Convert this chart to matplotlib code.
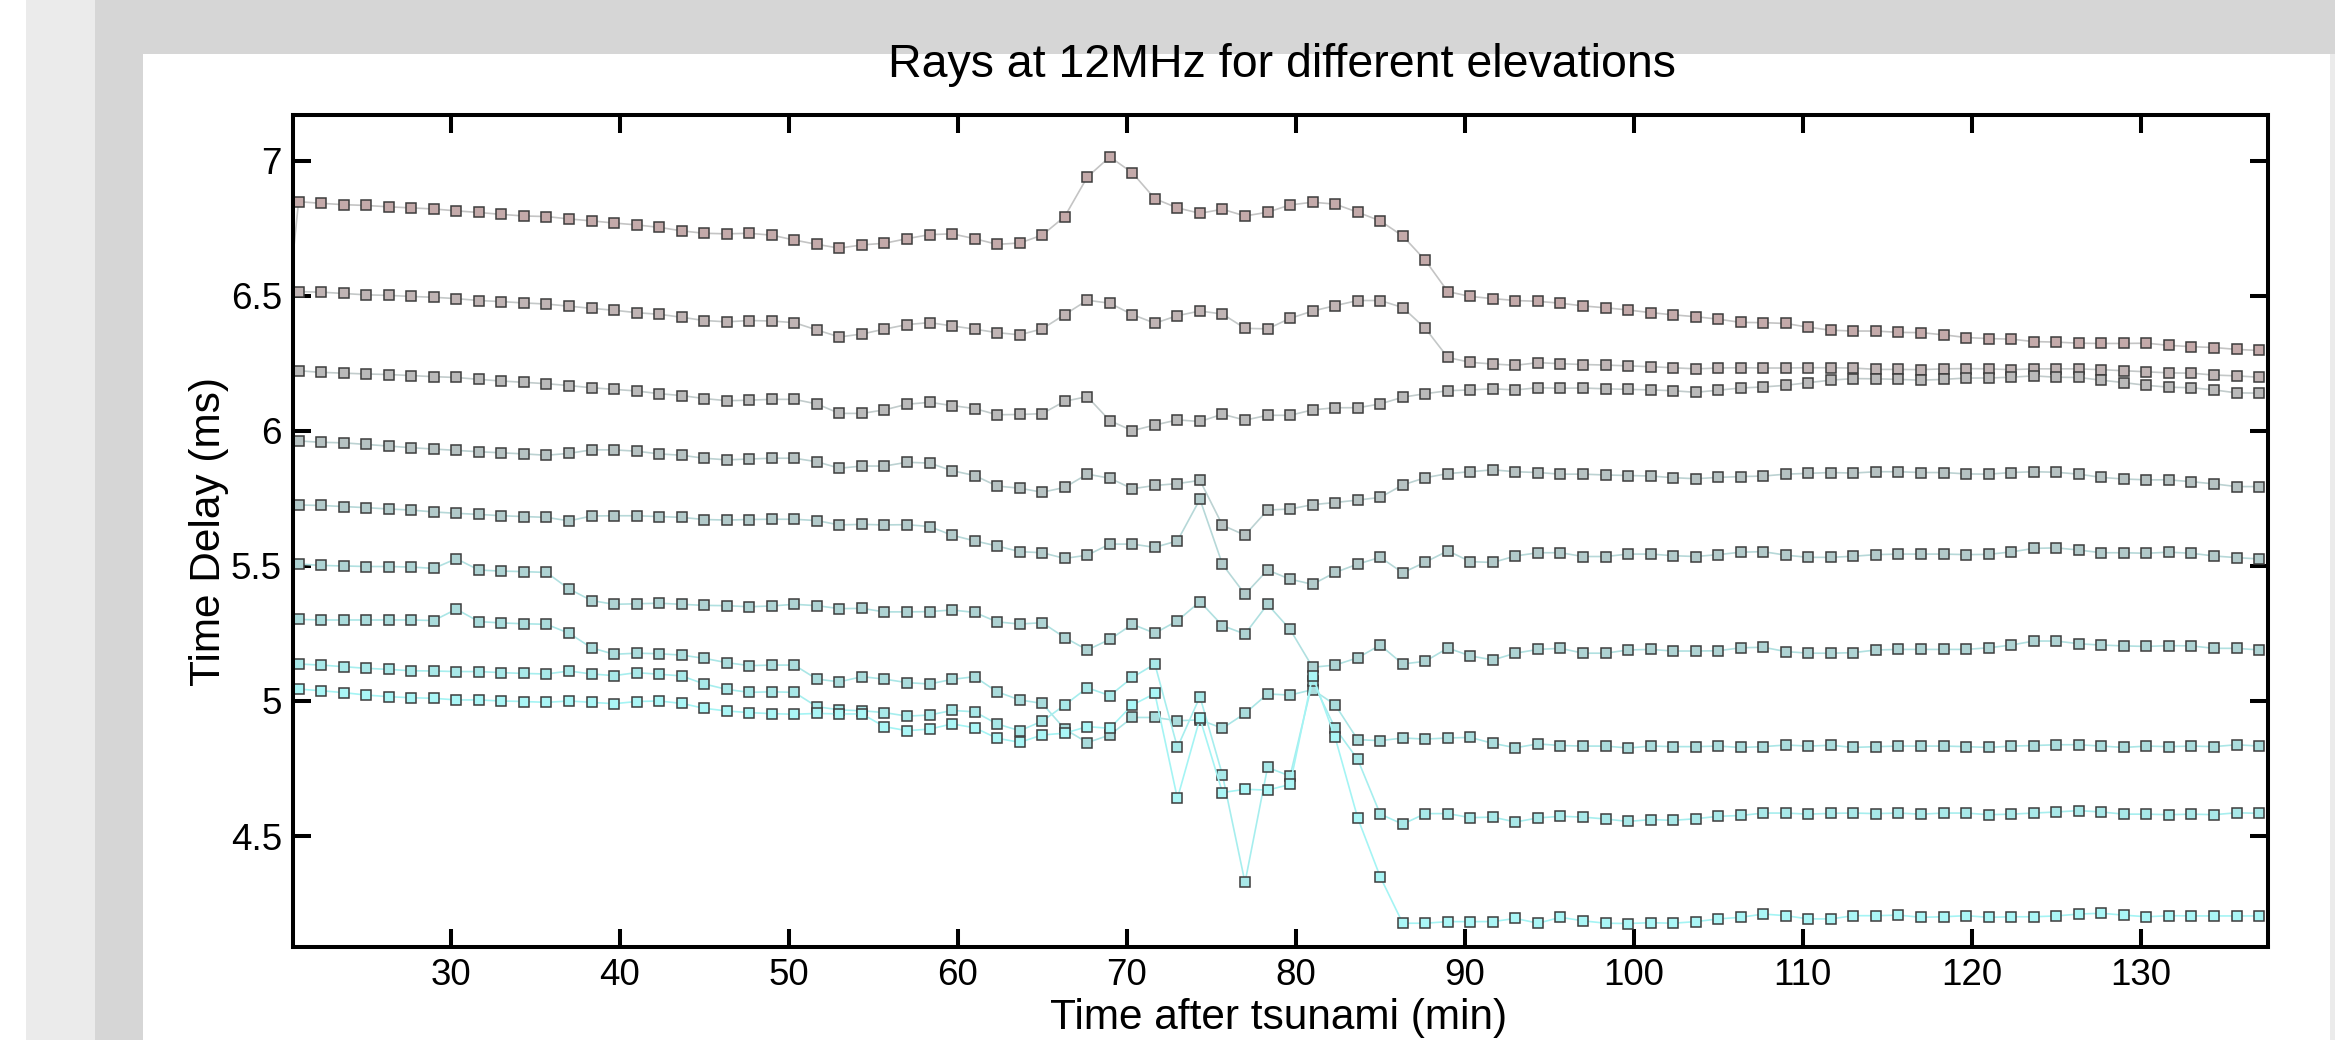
import numpy as np
import matplotlib
matplotlib.use('Agg')
import matplotlib.pyplot as plt
from matplotlib.patches import Rectangle

# Time samples (min): a lead-in sample then 88 samples from 21 to 137
time_min = np.linspace(21 - 4/3, 137, 89)

lead_in_s1 = 6.04

s1 = [6.849, 6.843, 6.838, 6.835, 6.830, 6.826, 6.822, 6.815, 6.809, 6.802, 6.796, 6.794, 6.785, 6.778, 6.770, 6.763, 6.754, 6.741,
      6.732, 6.730, 6.732, 6.725, 6.707, 6.691, 6.677, 6.689, 6.695, 6.712, 6.727, 6.730, 6.712, 6.691, 6.696, 6.725, 6.794, 6.940,
      7.015, 6.956, 6.860, 6.826, 6.806, 6.821, 6.796, 6.810, 6.837, 6.847, 6.840, 6.810, 6.778, 6.722, 6.632, 6.516, 6.498, 6.490,
      6.483, 6.480, 6.473, 6.463, 6.456, 6.448, 6.438, 6.430, 6.423, 6.414, 6.402, 6.401, 6.398, 6.384, 6.373, 6.370, 6.370, 6.365,
      6.364, 6.356, 6.346, 6.342, 6.340, 6.331, 6.329, 6.325, 6.324, 6.324, 6.325, 6.317, 6.312, 6.309, 6.302, 6.298]

s2 = [6.516, 6.514, 6.509, 6.504, 6.502, 6.498, 6.495, 6.490, 6.483, 6.479, 6.474, 6.470, 6.462, 6.454, 6.447, 6.438, 6.432, 6.421,
      6.409, 6.404, 6.409, 6.407, 6.401, 6.374, 6.348, 6.359, 6.377, 6.394, 6.401, 6.389, 6.377, 6.364, 6.356, 6.378, 6.431, 6.484,
      6.473, 6.431, 6.399, 6.427, 6.444, 6.433, 6.380, 6.378, 6.417, 6.444, 6.464, 6.483, 6.483, 6.457, 6.380, 6.272, 6.254, 6.248,
      6.243, 6.253, 6.249, 6.246, 6.244, 6.241, 6.238, 6.234, 6.230, 6.233, 6.234, 6.233, 6.233, 6.234, 6.234, 6.233, 6.228, 6.228,
      6.227, 6.230, 6.231, 6.230, 6.227, 6.230, 6.230, 6.230, 6.227, 6.223, 6.219, 6.215, 6.214, 6.207, 6.204, 6.199]

s3 = [6.223, 6.217, 6.214, 6.211, 6.209, 6.205, 6.201, 6.198, 6.191, 6.185, 6.180, 6.175, 6.168, 6.160, 6.154, 6.148, 6.138, 6.131,
      6.120, 6.112, 6.114, 6.117, 6.117, 6.100, 6.065, 6.065, 6.078, 6.099, 6.106, 6.094, 6.083, 6.060, 6.061, 6.064, 6.110, 6.127,
      6.038, 6.001, 6.022, 6.041, 6.035, 6.062, 6.040, 6.058, 6.058, 6.078, 6.086, 6.086, 6.100, 6.125, 6.138, 6.149, 6.152, 6.156,
      6.152, 6.160, 6.158, 6.159, 6.156, 6.154, 6.152, 6.149, 6.143, 6.151, 6.159, 6.163, 6.169, 6.179, 6.188, 6.194, 6.193, 6.191,
      6.188, 6.191, 6.196, 6.196, 6.199, 6.204, 6.199, 6.198, 6.188, 6.179, 6.169, 6.162, 6.160, 6.152, 6.141, 6.140]

s4 = [5.963, 5.958, 5.956, 5.950, 5.944, 5.938, 5.933, 5.928, 5.923, 5.919, 5.915, 5.910, 5.917, 5.930, 5.930, 5.925, 5.915, 5.910,
      5.899, 5.893, 5.896, 5.899, 5.899, 5.886, 5.862, 5.870, 5.870, 5.884, 5.881, 5.853, 5.835, 5.796, 5.788, 5.773, 5.791, 5.840,
      5.825, 5.786, 5.798, 5.805, 5.817, 5.651, 5.614, 5.707, 5.711, 5.727, 5.735, 5.744, 5.754, 5.800, 5.827, 5.842, 5.849, 5.856,
      5.849, 5.846, 5.840, 5.840, 5.837, 5.835, 5.833, 5.827, 5.823, 5.828, 5.831, 5.833, 5.840, 5.843, 5.846, 5.844, 5.849, 5.849,
      5.846, 5.846, 5.841, 5.840, 5.846, 5.849, 5.847, 5.840, 5.828, 5.822, 5.819, 5.819, 5.812, 5.804, 5.794, 5.794]

s5 = [5.726, 5.724, 5.720, 5.716, 5.711, 5.707, 5.700, 5.695, 5.691, 5.686, 5.683, 5.680, 5.667, 5.685, 5.686, 5.686, 5.683, 5.680,
      5.672, 5.670, 5.672, 5.673, 5.673, 5.668, 5.652, 5.654, 5.652, 5.653, 5.646, 5.614, 5.593, 5.574, 5.553, 5.549, 5.528, 5.540,
      5.581, 5.581, 5.569, 5.593, 5.747, 5.506, 5.395, 5.485, 5.451, 5.432, 5.476, 5.507, 5.532, 5.475, 5.514, 5.556, 5.516, 5.513,
      5.537, 5.549, 5.549, 5.535, 5.535, 5.544, 5.544, 5.538, 5.535, 5.542, 5.551, 5.553, 5.540, 5.532, 5.532, 5.536, 5.542, 5.544,
      5.544, 5.544, 5.542, 5.543, 5.552, 5.565, 5.567, 5.559, 5.549, 5.549, 5.547, 5.551, 5.547, 5.537, 5.531, 5.526]

s6 = [5.507, 5.502, 5.500, 5.498, 5.498, 5.496, 5.491, 5.527, 5.485, 5.481, 5.479, 5.476, 5.415, 5.372, 5.358, 5.360, 5.362, 5.358,
      5.354, 5.353, 5.349, 5.352, 5.358, 5.353, 5.342, 5.343, 5.330, 5.330, 5.331, 5.337, 5.328, 5.293, 5.285, 5.290, 5.235, 5.189,
      5.228, 5.284, 5.251, 5.297, 5.368, 5.279, 5.248, 5.358, 5.265, 5.125, 5.133, 5.160, 5.207, 5.137, 5.147, 5.196, 5.167, 5.152,
      5.177, 5.191, 5.195, 5.177, 5.177, 5.189, 5.191, 5.185, 5.185, 5.186, 5.197, 5.199, 5.183, 5.177, 5.177, 5.179, 5.189, 5.191,
      5.191, 5.191, 5.191, 5.197, 5.207, 5.222, 5.222, 5.212, 5.207, 5.204, 5.202, 5.205, 5.204, 5.195, 5.195, 5.189]

s7 = [5.302, 5.300, 5.300, 5.300, 5.300, 5.300, 5.298, 5.340, 5.294, 5.289, 5.286, 5.284, 5.251, 5.197, 5.173, 5.177, 5.175, 5.170,
      5.158, 5.142, 5.131, 5.133, 5.133, 5.081, 5.071, 5.090, 5.081, 5.068, 5.063, 5.080, 5.090, 5.034, 5.004, 4.991, 4.896, 4.846,
      4.874, 4.939, 4.939, 4.927, 4.930, 4.899, 4.954, 5.026, 5.022, 5.042, 4.986, 4.857, 4.853, 4.863, 4.859, 4.863, 4.865, 4.843,
      4.827, 4.841, 4.835, 4.833, 4.833, 4.826, 4.833, 4.831, 4.831, 4.833, 4.828, 4.831, 4.837, 4.833, 4.836, 4.828, 4.831, 4.833,
      4.833, 4.833, 4.831, 4.828, 4.833, 4.835, 4.838, 4.838, 4.833, 4.828, 4.833, 4.831, 4.833, 4.831, 4.838, 4.833]

s8 = [5.137, 5.133, 5.127, 5.121, 5.117, 5.112, 5.111, 5.109, 5.109, 5.105, 5.102, 5.100, 5.111, 5.100, 5.094, 5.105, 5.099, 5.093,
      5.063, 5.043, 5.032, 5.034, 5.032, 4.979, 4.967, 4.964, 4.957, 4.944, 4.948, 4.965, 4.960, 4.915, 4.890, 4.925, 4.985, 5.049,
      5.020, 5.087, 5.137, 4.828, 5.016, 4.726, 4.328, 4.754, 4.722, 5.073, 4.899, 4.784, 4.581, 4.544, 4.583, 4.583, 4.568, 4.570,
      4.552, 4.567, 4.573, 4.570, 4.563, 4.554, 4.561, 4.558, 4.564, 4.573, 4.576, 4.585, 4.585, 4.581, 4.584, 4.585, 4.583, 4.585,
      4.581, 4.585, 4.585, 4.579, 4.581, 4.585, 4.589, 4.594, 4.589, 4.581, 4.581, 4.579, 4.581, 4.579, 4.586, 4.584]

s9 = [5.044, 5.038, 5.031, 5.022, 5.016, 5.012, 5.010, 5.004, 5.004, 5.000, 4.998, 4.995, 5.000, 4.995, 4.990, 4.998, 5.000, 4.991,
      4.973, 4.963, 4.957, 4.953, 4.951, 4.954, 4.952, 4.952, 4.905, 4.890, 4.896, 4.915, 4.901, 4.862, 4.847, 4.874, 4.881, 4.905,
      4.899, 4.985, 5.028, 4.639, 4.936, 4.661, 4.673, 4.670, 4.691, 5.094, 4.865, 4.567, 4.349, 4.177, 4.177, 4.183, 4.183, 4.183,
      4.195, 4.177, 4.199, 4.186, 4.177, 4.176, 4.179, 4.177, 4.183, 4.193, 4.199, 4.211, 4.205, 4.193, 4.193, 4.205, 4.205, 4.207,
      4.199, 4.201, 4.205, 4.199, 4.201, 4.201, 4.204, 4.211, 4.214, 4.207, 4.201, 4.205, 4.204, 4.204, 4.204, 4.204]

series = [s1, s2, s3, s4, s5, s6, s7, s8, s9]
face_colors = ['#c4aaaa', '#c0b4b4', '#bababa', '#b6c2c2', '#b2caca', '#aed3d3', '#aadcdc', '#a8e8e8', '#aaf6f6']
line_colors = ['#c4c4c4', '#c4c8c8', '#c2cccc', '#bcd2d2', '#b6d8d8', '#b0e0e0', '#aae6e6', '#a6eeee', '#a4f4f4']

W, H, DPI = 2335, 1040, 100
fig = plt.figure(figsize=(W / DPI, H / DPI), dpi=DPI, facecolor='white')

def px_rect(x0, y0, x1, y1, color):
    fig.patches.append(Rectangle((x0 / W, 1 - y1 / H), (x1 - x0) / W, (y1 - y0) / H,
                                 transform=fig.transFigure, facecolor=color, edgecolor='none', zorder=-10))

px_rect(26, 0, 95, H, '#ebebeb')
px_rect(95, 0, 143, H, '#d6d6d6')
px_rect(95, 0, 2335, 54, '#d6d6d6')
px_rect(2330, 54, 2335, H, '#ebebeb')

ax = fig.add_axes([293 / W, 1 - 947 / H, (2268 - 293) / W, (947 - 115) / H])
ax.set_facecolor('white')

for i, (vals, fc, lc) in enumerate(zip(series, face_colors, line_colors)):
    y = np.array(([lead_in_s1] if i == 0 else [np.nan]) + vals)
    ax.plot(time_min, y, '-', color=lc, lw=1.2, marker='s', ms=7.2, mfc=fc, mec='#3c3c3c', mew=1.1)

ax.set_xlim(20.67, 137.53)
ax.set_ylim(4.089, 7.17)
ax.set_xticks([30, 40, 50, 60, 70, 80, 90, 100, 110, 120, 130])
ax.set_yticks([4.5, 5, 5.5, 6, 6.5, 7])
ax.set_yticklabels(['4.5', '5', '5.5', '6', '6.5', '7'])

font = 'Liberation Sans'
ax.tick_params(direction='in', length=13, width=2.9, top=True, right=True, labelsize=26.5, pad=8)
for lab in ax.get_xticklabels() + ax.get_yticklabels():
    lab.set_fontfamily(font)
for sp in ax.spines.values():
    sp.set_linewidth(2.9)

fig.text(1282 / W, 1 - 65 / H, 'Rays at 12MHz for different elevations', ha='center', va='center',
         fontsize=33.5, family=font)
fig.text(1279 / W, 1 - 1018 / H, 'Time after tsunami (min)', ha='center', va='center',
         fontsize=30.5, family=font)
fig.text(209 / W, 1 - 531 / H, 'Time Delay (ms)', ha='center', va='center', rotation=90,
         fontsize=30.5, family=font)

fig.savefig('out.png', dpi=DPI, facecolor='white')
